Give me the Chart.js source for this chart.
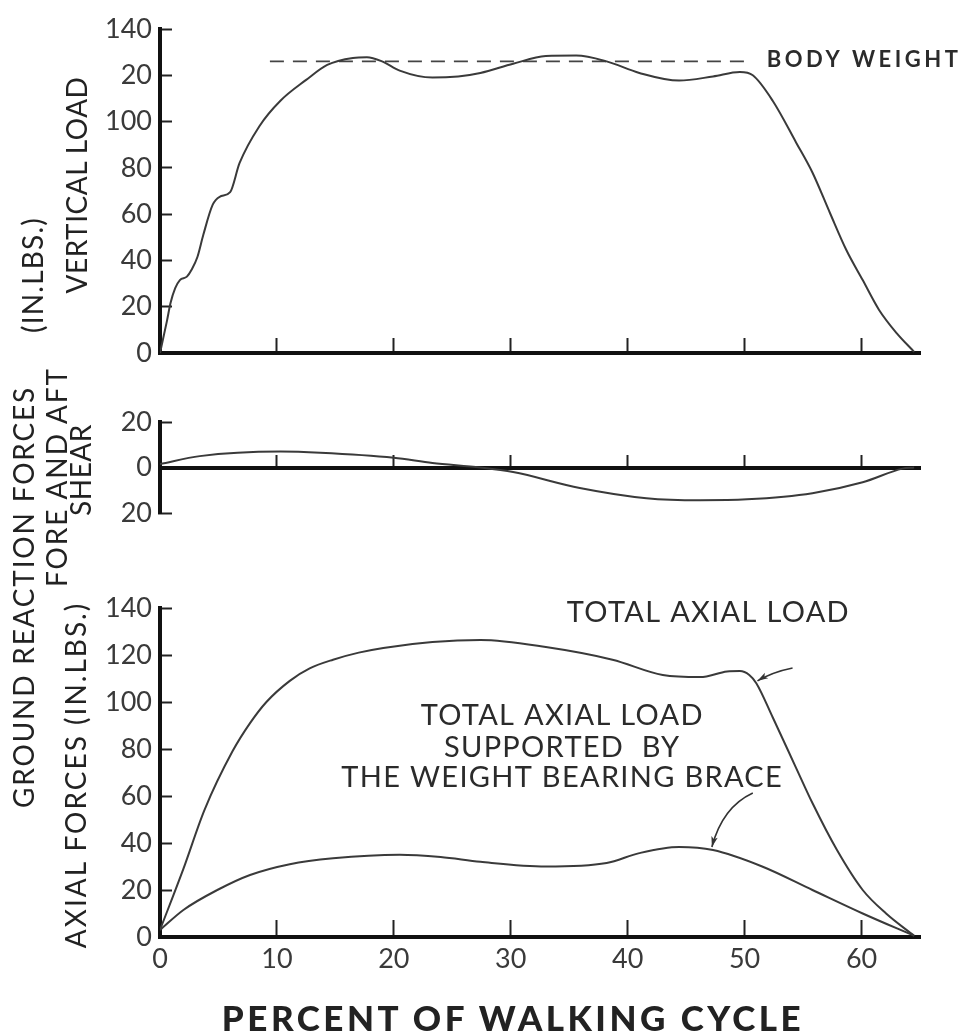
<!DOCTYPE html>
<html>
<head>
<meta charset="utf-8">
<script src="https://cdn.jsdelivr.net/npm/chart.js@4.4.1/dist/chart.umd.min.js"></script>
<style>
  html, body { margin: 0; padding: 0; background: #fff; }
  body { width: 961px; height: 1031px; position: relative; overflow: hidden; font-family: 'Lato', sans-serif; color: #222; }
  canvas { position: absolute; left: 0; }
  .lbl { position: absolute; white-space: nowrap; transform: translate(-50%, -50%) rotate(-90deg); font-size: 28px; line-height: 1; letter-spacing: 0.5px; }
  .xtitle { position: absolute; white-space: nowrap; transform: translate(-50%, -50%); font-size: 35px; font-weight: 900; letter-spacing: 3.5px; line-height: 1; color: #222; }
</style>
</head>
<body>
<canvas id="cVert" style="top:0px" width="961" height="385"></canvas>
<canvas id="cShear" style="top:390px" width="961" height="140"></canvas>
<canvas id="cAxial" style="top:570px" width="961" height="461"></canvas>

<div class="lbl" style="left:32px; top:275px; letter-spacing:1.2px">(IN.LBS.)</div>
<div class="lbl" style="left:76px; top:185px">VERTICAL LOAD</div>
<div class="lbl" style="left:23px; top:597px; letter-spacing:1.8px">GROUND REACTION FORCES</div>
<div class="lbl" style="left:56px; top:477px; letter-spacing:1.9px">FORE AND AFT</div>
<div class="lbl" style="left:80px; top:470px">SHEAR</div>
<div class="lbl" style="left:75px; top:775px; letter-spacing:2px">AXIAL FORCES (IN.LBS.)</div>
<div class="xtitle" style="left:513px; top:1017px">PERCENT OF WALKING CYCLE</div>

<script>
// percent of walking cycle (x) and values
const xTicks = [0, 10, 20, 30, 40, 50, 60];
const loadTicks = [0, 20, 40, 60, 80, 100, 120, 140];
const vertTickLabels = ['0', '20', '40', '60', '80', '100', '20', '140'];
const axialTickLabels = ['0', '20', '40', '60', '80', '100', '120', '140'];
const shearTicks = [-20, 0, 20];

const vertPct  = [0, 0.6, 0.9, 1.3, 1.7, 2.3, 2.7, 3.2, 3.7, 4.5, 5.1, 6, 6.8, 8.5, 10.3, 12.5, 14.3, 16.5, 17.7, 19, 20.5, 23.3, 25.5, 27.4, 30.2, 33, 35.6, 38.2, 41, 44.4, 47.3, 49.6, 50.7, 52.4, 54.4, 55.8, 57.3, 58.7, 60.1, 61.5, 63, 64.5];
const vertLoad = [0, 14, 21.6, 28, 31.5, 33, 36, 41.5, 51, 64, 67.5, 69.5, 82, 98, 109, 118, 124.5, 127.5, 127.8, 126, 122, 119, 119.5, 121, 125, 128.3, 128.5, 126, 121, 117.7, 119.5, 121.4, 120, 109, 91, 78, 60.5, 44.5, 31.5, 18.6, 8.6, 0.5];

const bodyWeightPct = [9.4, 50.7];
const bodyWeight = [126, 126];

const shearPct = [0, 3.4, 10.3, 13.7, 20, 23.3, 27.4, 30.2, 35.9, 41.6, 46.2, 50.2, 55.8, 60.1, 63.5, 64.5];
const shear    = [1.5, 5, 7, 6.5, 4.3, 2, 0, -2, -9, -13.5, -14.4, -14, -11.3, -6.5, -0.5, 0];

const totalPct  = [0, 2, 3.8, 6.2, 7.7, 9.1, 11.1, 12.8, 14.8, 17, 19.1, 23.3, 27.4, 33, 38.7, 43, 46.2, 48.5, 49.6, 50.4, 51, 52.4, 54.4, 55.8, 57.9, 60.1, 62.1, 64.5];
const totalLoad = [3, 29, 54, 79, 91, 100, 109, 114.3, 118, 121, 123, 125.5, 126.4, 123.4, 118, 111.5, 110.6, 113, 113.2, 111.5, 108, 93.5, 72, 57, 37, 20, 10, 0.5];

const bracePct  = [0, 2, 4.9, 7.7, 11.1, 14.8, 20.5, 24, 27.4, 33, 38.2, 41, 44.4, 47.3, 51.5, 55.8, 60.1, 64.5];
const braceLoad = [3, 11.5, 20, 26.4, 31, 33.5, 35, 34, 32, 30, 31.5, 35.7, 38.3, 37, 30, 20, 10, 0.5];

const pts = (xs, ys) => xs.map((x, i) => ({ x: x, y: ys[i] }));

const INK = '#2b2b2b';
const FONT = "'Lato', sans-serif";

function lineSet(data, extra) {
    return Object.assign({
        data: data,
        borderColor: '#3a3a3a',
        borderWidth: 2,
        pointRadius: 0,
        fill: false,
        cubicInterpolationMode: 'monotone'
    }, extra || {});
}

function xScale(opts) {
    return Object.assign({
        type: 'linear',
        min: 0, max: 65,
        afterBuildTicks: s => { s.ticks = xTicks.map(v => ({ value: v })); },
        border: { color: '#111', width: 4 },
        grid: { drawOnChartArea: false, drawTicks: true, tickLength: -15, tickWidth: 2, tickColor: '#222' },
        ticks: { display: false }
    }, opts || {});
}

function yScale(min, max, tickVals, labelFn) {
    return {
        type: 'linear',
        min: min, max: max,
        afterBuildTicks: s => { s.ticks = tickVals.map(v => ({ value: v })); },
        // fixed axis width, and no extra room for the end labels: layout padding places the plot
        afterFit: s => { s.width = 160; s.paddingTop = 0; s.paddingBottom = 0; },
        border: { color: '#111', width: 4 },
        grid: { drawOnChartArea: false, drawTicks: true, tickLength: -12, tickWidth: 2, tickColor: '#222' },
        ticks: {
            padding: 20,
            color: '#3a3a3a',
            font: { family: FONT, size: 27 },
            callback: labelFn
        }
    };
}

const baseOpts = {
    responsive: false,
    animation: false,
    events: [],
    plugins: { legend: { display: false }, tooltip: { enabled: false } }
};

// text + arrows drawn in data units through the chart's scales
const notes = {
    id: 'notes',
    afterDatasetsDraw(chart, args, o) {
        const ctx = chart.ctx, xs = chart.scales.x, ys = chart.scales.y;
        const px = v => xs.getPixelForValue(v), py = v => ys.getPixelForValue(v);
        ctx.save();
        (o.texts || []).forEach(t => {
            ctx.font = t.font;
            ctx.fillStyle = INK;
            ctx.textAlign = t.align || 'center';
            ctx.textBaseline = 'middle';
            ctx.letterSpacing = t.spacing || '0px';
            ctx.fillText(t.text, px(t.x), py(t.y));
        });
        ctx.letterSpacing = '0px';
        (o.arrows || []).forEach(a => {
            const x0 = px(a.from[0]), y0 = py(a.from[1]);
            const cx = px(a.via[0]), cy = py(a.via[1]);
            const x1 = px(a.to[0]), y1 = py(a.to[1]);
            ctx.strokeStyle = '#333';
            ctx.lineWidth = 1.6;
            ctx.beginPath();
            ctx.moveTo(x0, y0);
            ctx.quadraticCurveTo(cx, cy, x1, y1);
            ctx.stroke();
            const ang = Math.atan2(y1 - cy, x1 - cx);
            ctx.fillStyle = '#333';
            ctx.beginPath();
            ctx.moveTo(x1, y1);
            ctx.lineTo(x1 - 11 * Math.cos(ang - 0.3), y1 - 11 * Math.sin(ang - 0.3));
            ctx.lineTo(x1 - 8 * Math.cos(ang), y1 - 8 * Math.sin(ang));
            ctx.lineTo(x1 - 11 * Math.cos(ang + 0.3), y1 - 11 * Math.sin(ang + 0.3));
            ctx.closePath();
            ctx.fill();
        });
        ctx.restore();
    }
};

const noteFont = "29px " + FONT;

new Chart(document.getElementById('cVert'), {
    type: 'line',
    data: {
        datasets: [
            lineSet(pts(vertPct, vertLoad)),
            lineSet(pts(bodyWeightPct, bodyWeight), { borderDash: [14, 9], borderWidth: 1.8, borderColor: '#444', cubicInterpolationMode: 'default', tension: 0 })
        ]
    },
    options: Object.assign({}, baseOpts, {
        layout: { padding: { top: 29, bottom: 32, left: 0, right: 41 } },
        scales: {
            x: xScale({ afterFit: s => { s.height = 0; } }),
            y: yScale(0, 140, loadTicks, (v, i) => vertTickLabels[i])
        },
        plugins: Object.assign({}, baseOpts.plugins, {
            notes: { texts: [{ text: 'BODY WEIGHT', x: 51.9, y: 126.6, align: 'left', font: "bold 22px " + FONT, spacing: '3.5px' }] }
        })
    }),
    plugins: [notes]
});

new Chart(document.getElementById('cShear'), {
    type: 'line',
    data: { datasets: [lineSet(pts(shearPct, shear))] },
    options: Object.assign({}, baseOpts, {
        layout: { padding: { top: 32, bottom: 17, left: 0, right: 41 } },
        scales: {
            x: xScale({ position: { y: 0 }, afterFit: s => { s.height = 0; } }),
            y: yScale(-20, 20, shearTicks, v => String(Math.abs(v)))
        }
    })
});

new Chart(document.getElementById('cAxial'), {
    type: 'line',
    data: {
        datasets: [
            lineSet(pts(totalPct, totalLoad)),
            lineSet(pts(bracePct, braceLoad))
        ]
    },
    options: Object.assign({}, baseOpts, {
        layout: { padding: { top: 38, bottom: 0, left: 0, right: 41 } },
        scales: {
            x: xScale({
                afterFit: s => { s.height = 94; },
                grid: { drawOnChartArea: false, drawTicks: true, tickLength: -17, tickWidth: 2, tickColor: '#222' },
                ticks: { display: true, padding: 23, color: '#3a3a3a', font: { family: FONT, size: 27 } }
            }),
            y: yScale(0, 140, loadTicks, (v, i) => axialTickLabels[i])
        },
        plugins: Object.assign({}, baseOpts.plugins, {
            notes: {
                texts: [
                    { text: 'TOTAL AXIAL LOAD', x: 46.9, y: 137.9, font: noteFont, spacing: '1.3px' },
                    { text: 'TOTAL AXIAL LOAD', x: 34.4, y: 94, font: noteFont, spacing: '1.3px' },
                    { text: 'SUPPORTED  BY', x: 34.4, y: 80.4, font: noteFont, spacing: '1.3px' },
                    { text: 'THE WEIGHT BEARING BRACE', x: 34.4, y: 67.7, font: noteFont, spacing: '1.3px' }
                ],
                arrows: [
                    { from: [54.1, 114.5], via: [52.4, 112.8], to: [51.1, 109] },
                    { from: [50.7, 61.3], via: [48.1, 55.3], to: [47.2, 38.3] }
                ]
            }
        })
    }),
    plugins: [notes]
});
</script>
</body>
</html>
